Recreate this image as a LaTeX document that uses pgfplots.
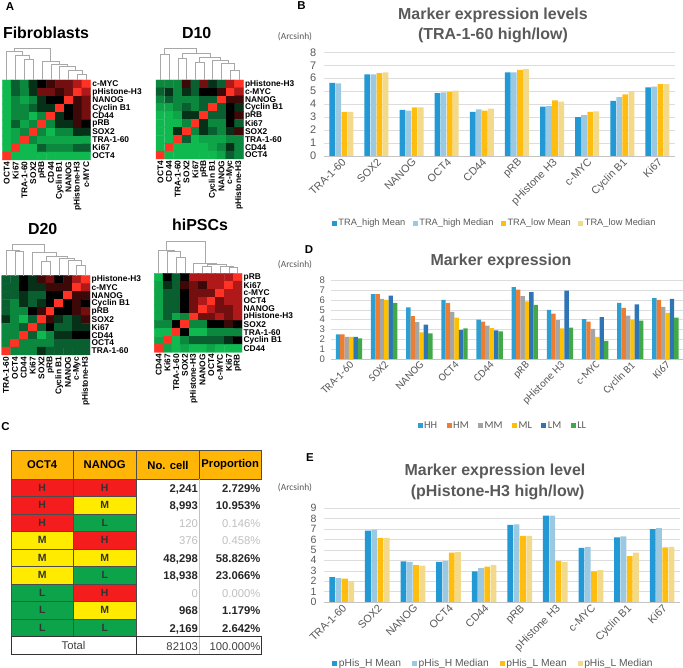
\documentclass[border=0pt]{standalone}
\usepackage{pgfplots}
\usepackage{pgfplotstable}
\usepackage{fontspec}
\pgfplotsset{compat=1.18}
\setmainfont{Liberation Sans}
\newfontfamily\carl{Carlito}
\newcommand{\fs}[1]{\fontsize{#1}{#1}\selectfont}
\definecolor{tg}{HTML}{595959}
\definecolor{lg}{HTML}{DDDDDD}
\definecolor{ax}{HTML}{C4C4C4}
\definecolor{bA}{HTML}{2298D4}
\definecolor{bB}{HTML}{9CC9E2}
\definecolor{bC}{HTML}{FFBE0F}
\definecolor{bD}{HTML}{F3D98A}
\definecolor{dA}{HTML}{2E9FD2}
\definecolor{dB}{HTML}{ED7D31}
\definecolor{dC}{HTML}{A5A5A5}
\definecolor{dD}{HTML}{FFC000}
\definecolor{dE}{HTML}{2E75B6}
\definecolor{dF}{HTML}{43A84A}
\definecolor{tr}{HTML}{F41C1C}
\definecolor{ty}{HTML}{FFEB00}
\definecolor{tn}{HTML}{0CA34A}
\definecolor{th}{HTML}{FFB606}
\definecolor{dgr}{HTML}{A8A8A8}

\pgfplotstableread{
a b c d
5.65 5.6 3.4 3.4
6.3 6.3 6.4 6.45
3.55 3.5 3.75 3.75
4.85 4.9 4.95 5.05
3.4 3.6 3.5 3.65
6.45 6.45 6.65 6.7
3.8 3.85 4.3 4.2
3.0 3.15 3.4 3.45
4.25 4.55 4.75 5.0
5.3 5.35 5.55 5.55
}\tableB
\pgfplotstableread{
a b c d e f
2.5 2.5 2.25 2.25 2.25 2.1
6.6 6.6 6.1 6.0 6.45 5.7
5.25 4.35 3.75 2.7 3.5 2.6
6.0 5.7 4.8 4.2 2.95 3.1
4.0 3.8 3.4 3.15 2.9 2.8
7.3 7.05 6.4 5.85 6.8 5.5
5.0 4.6 3.95 3.1 6.95 3.2
4.05 3.8 3.05 2.25 4.25 1.85
5.7 5.2 4.4 4.0 5.55 3.9
6.2 6.0 5.3 4.7 6.1 4.2
}\tableD
\pgfplotstableread{
a b c d
2.4 2.3 2.25 2.0
6.85 6.95 6.15 6.15
3.9 3.85 3.55 3.5
3.85 3.95 4.75 4.8
2.95 3.25 3.4 3.55
7.4 7.45 6.35 6.35
8.3 8.3 3.95 3.85
5.2 5.3 2.95 3.05
6.2 6.3 4.4 4.75
7.0 7.1 5.25 5.3
}\tableE

\pgfplotsset{
 heat/.style={
  scale only axis, clip=false,
  xmin=-0.5,xmax=9.5,ymin=-0.5,ymax=9.5,y dir=reverse,
  xtick={0,...,9},ytick={0,...,9},
  yticklabel pos=right,
  major tick length=0pt, axis line style={draw=none},
  tick label style={font=\fs{8.4}\bfseries},
  xticklabel style={rotate=90,anchor=east,inner sep=1.5bp},
  yticklabel style={anchor=west,inner sep=1.5bp},
  point meta min=0,point meta max=9,
  colormap={gbr}{rgb255(0cm)=(15,185,80); rgb255(1cm)=(14,165,72); rgb255(2cm)=(12,135,62); rgb255(3cm)=(10,95,48); rgb255(4cm)=(6,48,24); rgb255(5cm)=(0,0,0); rgb255(6cm)=(60,8,8); rgb255(7cm)=(115,15,15); rgb255(8cm)=(175,25,25); rgb255(9cm)=(255,50,35)},
 },
 hm/.style={matrix plot*,mesh/cols=10,mesh/ordering=x varies,point meta=explicit},
 table/hmt/.style={x expr={mod(\coordindex,10)},y expr={floor(\coordindex/10)},header=false,meta index=0,row sep=\\},
 bars/.style={
  scale only axis,
  xmin=-0.5,xmax=9.5,ymin=0,
  axis x line=bottom,axis y line=left,
  x axis line style={-,draw=ax},y axis line style={draw=none},
  xtick={0,...,9},major tick length=0pt,ytick distance=1,
  ymajorgrids,grid style={draw=lg,line width=0.5bp},
  xticklabels={TRA-1-60,SOX2,NANOG,OCT4,CD44,pRB,pHistone H3,c-MYC,Cyclin B1,Ki67},
  xticklabel style={rotate=45,anchor=north east,inner sep=1bp,text=tg},
  yticklabel style={text=tg},
  /pgf/number format/assume math mode=true,
  legend columns=-1,
  legend cell align=left,
 },
 lbar/.style={every axis plot post/.append style={legend image code/.code={\path[####1,draw=none] (0bp,-2.5bp) rectangle (5bp,2.5bp);}}},
}
\newcommand{\br}[5]{\draw[dgr,line width=0.6bp]
 ([yshift=#2bp]axis cs:#1,-0.5) -- ([yshift=#5bp]axis cs:#1,-0.5) -- ([yshift=#5bp]axis cs:#3,-0.5) -- ([yshift=#4bp]axis cs:#3,-0.5);}
\newcommand{\trow}[8]{%
 \pgfmathsetmacro{\yt}{189-17.47*#1}\pgfmathsetmacro{\yb}{\yt-17.47}\pgfmathsetmacro{\ym}{\yt-8.73}
 \fill[#2] (11,\yt) rectangle (73.3,\yb);
 \fill[#4] (73.3,\yt) rectangle (136,\yb);
 \draw[black!70,line width=0.5bp] (11,\yt) rectangle (73.3,\yb);
 \draw[black!70,line width=0.5bp] (73.3,\yt) rectangle (136,\yb);
 \node[font=\fs{10.5}\bfseries,text=black!80] at (42.2,\ym) {#3};
 \node[font=\fs{10.5}\bfseries,text=black!80] at (104.7,\ym) {#5};
 \node[font=\fs{11.3}\bfseries,text=#8,anchor=mid east,inner sep=0pt] at (198,\ym-2) {#6};
 \node[font=\fs{11.3}\bfseries,text=#8,anchor=mid east,inner sep=0pt] at (260.5,\ym-2) {#7};
}

\begin{document}
\begin{tikzpicture}[x=1bp,y=1bp]
\useasboundingbox (0,0) rectangle (683,668);

% Panel letters and heat-map titles
\node[font=\fs{11.5}\bfseries] at (10,661) {A};
\node[font=\fs{11.5}\bfseries] at (301.5,662) {B};
\node[font=\fs{11.5}\bfseries] at (5.5,241) {C};
\node[font=\fs{11.5}\bfseries] at (309,418) {D};
\node[font=\fs{11.5}\bfseries] at (310,210) {E};
\node[font=\fs{16}\bfseries] at (46,635.5) {Fibroblasts};
\node[font=\fs{16}\bfseries] at (196.7,634.5) {D10};
\node[font=\fs{16}\bfseries] at (42.7,439) {D20};
\node[font=\fs{16}\bfseries] at (200,443) {hiPSCs};

% Fibroblasts
\begin{axis}[heat,at={(2.3bp,508bp)},anchor=south west,width=88.4bp,height=80bp,
 xticklabels={OCT4,Ki67,TRA-1-60,SOX2,pRB,CD44,Cyclin B1,NANOG,pHistone-H3,c-MYC},
 yticklabels={c-MYC,pHistone-H3,NANOG,Cyclin B1,CD44,pRB,SOX2,TRA-1-60,Ki67,OCT4}]
\addplot[hm] table[hmt] {
0\\3\\2\\4\\5\\6\\7\\7\\8\\9\\
0\\3\\2\\4\\7\\7\\6\\7\\9\\8\\
0\\2\\1\\2\\4\\5\\5\\9\\6\\7\\
0\\2\\2\\3\\4\\4\\9\\5\\6\\7\\
0\\2\\2\\0\\2\\9\\4\\5\\6\\7\\
0\\3\\1\\2\\9\\2\\4\\4\\6\\5\\
0\\1\\2\\9\\2\\0\\2\\2\\4\\4\\
0\\1\\9\\2\\1\\1\\1\\1\\1\\1\\
0\\9\\0\\0\\3\\2\\2\\2\\3\\3\\
9\\0\\0\\0\\0\\0\\0\\0\\0\\0\\
};
\br{8}{0}{9}{0}{6}
\br{7}{0}{8.5}{6}{9.5}
\br{6}{0}{7.75}{9.5}{14}
\br{5}{0}{6.875}{14}{16}
\br{4}{0}{5.94}{16}{18.5}
\br{2}{0}{3}{0}{20.5}
\br{1}{0}{2.5}{20.5}{25}
\br{0}{0}{1.75}{25}{28.5}
\br{0.875}{28.5}{4.97}{18.5}{32}
\end{axis}

% D10
\begin{axis}[heat,at={(156bp,509bp)},anchor=south west,width=87.3bp,height=79bp,
 xticklabels={OCT4,CD44,TRA-1-60,SOX2,Ki67,pRB,Cyclin B1,NANOG,c-Myc,pHistone-H3},
 yticklabels={pHistone-H3,c-MYC,NANOG,Cyclin B1,pRB,Ki67,SOX2,TRA-1-60,CD44,OCT4}]
\addplot[hm] table[hmt] {
2\\2\\2\\6\\3\\7\\4\\3\\8\\9\\
3\\4\\2\\4\\3\\5\\5\\6\\9\\8\\
2\\3\\2\\2\\2\\3\\3\\9\\6\\6\\
1\\1\\2\\3\\2\\3\\9\\3\\5\\4\\
0\\0\\1\\4\\4\\9\\3\\3\\5\\6\\
0\\0\\0\\2\\9\\4\\2\\2\\5\\3\\
0\\0\\4\\9\\2\\4\\3\\2\\4\\6\\
0\\0\\9\\3\\0\\1\\1\\1\\2\\2\\
0\\9\\0\\0\\0\\0\\1\\2\\4\\2\\
9\\0\\0\\0\\0\\0\\0\\1\\3\\2\\
};
\br{8}{0}{9}{0}{10}
\br{7}{0}{8.5}{10}{16.7}
\br{6}{0}{7.75}{16.7}{20}
\br{4}{0}{5}{0}{18}
\br{4.5}{18}{6.875}{20}{23}
\br{2}{0}{3}{0}{22}
\br{2.5}{22}{5.69}{23}{27}
\br{0}{0}{1}{0}{25.7}
\br{0.5}{25.7}{4.1}{27}{32}
\end{axis}

% D20
\begin{axis}[heat,at={(1.7bp,313bp)},anchor=south west,width=88.3bp,height=79.3bp,
 xticklabels={TRA-1-60,OCT4,CD44,Ki67,SOX2,pRB,Cyclin B1,NANOG,c-Myc,pHistone-H3},
 yticklabels={pHistone-H3,c-MYC,NANOG,Cyclin B1,pRB,SOX2,Ki67,CD44,OCT4,TRA-1-60}]
\addplot[hm] table[hmt] {
3\\3\\5\\4\\6\\7\\5\\6\\8\\9\\
3\\3\\5\\4\\4\\6\\6\\6\\9\\8\\
3\\3\\4\\3\\3\\5\\5\\9\\6\\6\\
3\\2\\4\\3\\4\\5\\9\\5\\6\\5\\
3\\2\\2\\5\\6\\9\\5\\5\\6\\7\\
4\\2\\0\\3\\9\\6\\4\\3\\4\\6\\
2\\2\\3\\9\\3\\5\\3\\3\\4\\4\\
2\\2\\9\\3\\0\\2\\4\\4\\5\\5\\
2\\9\\2\\2\\2\\2\\3\\3\\3\\3\\
9\\2\\2\\2\\4\\3\\3\\3\\3\\3\\
};
\br{8}{0}{9}{0}{10.7}
\br{7}{0}{8.5}{10.7}{15.7}
\br{6}{0}{7.75}{15.7}{17.3}
\br{4}{0}{5}{0}{14.7}
\br{4.5}{14.7}{6.875}{17.3}{19}
\br{3}{0}{5.69}{19}{23.3}
\br{1}{0}{2}{0}{24}
\br{0}{0}{1.5}{24}{25.7}
\br{0.75}{25.7}{4.34}{23.3}{31}
\end{axis}

% hiPSCs
\begin{axis}[heat,at={(154.3bp,315.7bp)},anchor=south west,width=87.7bp,height=79bp,
 xticklabels={CD44,Ki67,TRA-1-60,SOX2,pHistone-H3,NANOG,OCT4,c-MYC,Ki67,pRB},
 yticklabels={pRB,Ki67,c-MYC,OCT4,NANOG,pHistone-H3,SOX2,TRA-1-60,Cyclin B1,CD44}]
\addplot[hm] table[hmt] {
0\\5\\3\\5\\8\\8\\8\\8\\8\\9\\
1\\4\\3\\6\\7\\6\\8\\8\\9\\8\\
1\\3\\3\\5\\7\\7\\7\\9\\8\\8\\
1\\3\\3\\5\\7\\8\\9\\7\\8\\8\\
1\\3\\3\\5\\7\\9\\8\\7\\7\\8\\
1\\3\\1\\2\\9\\7\\7\\8\\7\\8\\
2\\2\\5\\9\\2\\2\\5\\5\\6\\5\\
0\\0\\9\\5\\0\\0\\2\\2\\2\\2\\
1\\9\\0\\2\\3\\3\\3\\3\\4\\5\\
9\\1\\0\\1\\0\\0\\1\\0\\0\\0\\
};
\br{5}{0}{6}{0}{6.7}
\br{8}{0}{9}{0}{5.7}
\br{7}{0}{8.5}{5.7}{6.7}
\br{5.5}{6.7}{7.75}{6.7}{9}
\br{4}{0}{6.6}{9}{10}
\br{2}{0}{3}{0}{15.7}
\br{1}{0}{2.5}{15.7}{22.3}
\br{0}{0}{1.75}{22.3}{23.3}
\br{0.875}{23.3}{5.3}{10}{31.7}
\end{axis}

% Panel B
\node[font=\carl\fs{9.5},text=tg] at (295,631) {(Arcsinh)};
\node[font=\fs{16}\bfseries,text=tg] at (493,653) {Marker expression levels};
\node[font=\fs{16}\bfseries,text=tg] at (493,633) {(TRA-1-60 high/low)};
\begin{axis}[bars,at={(323.8bp,512bp)},anchor=south west,width=351.1bp,height=103.7bp,ymax=8,
 ybar=0.4bp,bar width=5.7bp,lbar,
 tick label style={font=\fs{10.8}},
 yticklabel style={font=\fs{11},xshift=-4bp},
 legend style={at={(0.486,-0.65)},anchor=center,draw=none,fill=none,font=\fs{9.3},text=tg,
  /tikz/every even column/.append style={column sep=6bp},inner sep=0pt,nodes={inner sep=1.5bp}}]
\addplot[fill=bA,draw=none] table[x expr=\coordindex,y=a] {\tableB};
\addplot[fill=bB,draw=none] table[x expr=\coordindex,y=b] {\tableB};
\addplot[fill=bC,draw=none] table[x expr=\coordindex,y=c] {\tableB};
\addplot[fill=bD,draw=none] table[x expr=\coordindex,y=d] {\tableB};
\legend{TRA\_high Mean,TRA\_high Median,TRA\_low Mean,TRA\_low Median}
\end{axis}

% Panel D
\node[font=\carl\fs{9.5},text=tg] at (295,403) {(Arcsinh)};
\node[font=\fs{16}\bfseries,text=tg] at (501,407) {Marker expression};
\begin{axis}[bars,at={(331.4bp,309bp)},anchor=south west,width=351.6bp,height=78.7bp,ymax=8,
 ybar=0bp,bar width=4.4bp,lbar,
 tick label style={font=\carl\fs{11}},
 yticklabel style={font=\fs{9.6},xshift=-3bp},
 legend style={at={(0.487,-0.845)},anchor=center,draw=none,fill=none,font=\carl\fs{10.5},text=tg,
  /tikz/every even column/.append style={column sep=8bp},inner sep=0pt,nodes={inner sep=1.5bp}}]
\addplot[fill=dA,draw=none] table[x expr=\coordindex,y=a] {\tableD};
\addplot[fill=dB,draw=none] table[x expr=\coordindex,y=b] {\tableD};
\addplot[fill=dC,draw=none] table[x expr=\coordindex,y=c] {\tableD};
\addplot[fill=dD,draw=none] table[x expr=\coordindex,y=d] {\tableD};
\addplot[fill=dE,draw=none] table[x expr=\coordindex,y=e] {\tableD};
\addplot[fill=dF,draw=none] table[x expr=\coordindex,y=f] {\tableD};
\legend{HH,HM,MM,ML,LM,LL}
\end{axis}

% Panel E
\node[font=\carl\fs{9.5},text=tg] at (295,180) {(Arcsinh)};
\node[font=\fs{16}\bfseries,text=tg] at (495,196.3) {Marker expression level};
\node[font=\fs{16}\bfseries,text=tg] at (497.7,176) {(pHistone-H3 high/low)};
\begin{axis}[bars,at={(323.9bp,66bp)},anchor=south west,width=356bp,height=93.7bp,ymax=9,
 ybar=0.5bp,bar width=5.8bp,lbar,
 tick label style={font=\fs{10.8}},
 yticklabel style={font=\fs{10.6},xshift=-4bp},
 legend style={at={(0.476,-0.66)},anchor=center,draw=none,fill=none,font=\fs{10.3},text=tg,
  /tikz/every even column/.append style={column sep=9.5bp},inner sep=0pt,nodes={inner sep=1.5bp}}]
\addplot[fill=bA,draw=none] table[x expr=\coordindex,y=a] {\tableE};
\addplot[fill=bB,draw=none] table[x expr=\coordindex,y=b] {\tableE};
\addplot[fill=bC,draw=none] table[x expr=\coordindex,y=c] {\tableE};
\addplot[fill=bD,draw=none] table[x expr=\coordindex,y=d] {\tableE};
\legend{pHis\_H Mean,pHis\_H Median,pHis\_L Mean,pHis\_L Median}
\end{axis}

% Table C
\fill[th] (11,217.3) rectangle (261,189);
\draw[black!70,line width=0.5bp] (11,217.3) rectangle (261,189);
\foreach \x in {73.3,136,199.3} \draw[black!70,line width=0.5bp] (\x,217.3) -- (\x,189);
\node[font=\fs{11.3}\bfseries] at (42.2,203) {OCT4};
\node[font=\fs{11.3}\bfseries] at (104.7,203) {NANOG};
\node[font=\fs{11.3}\bfseries] at (168,203) {No. cell};
\node[font=\fs{11.3}\bfseries] at (230.2,203) {Proportion};
\draw[lg!70!gray,line width=1bp] (199.3,189) -- (199.3,13.7);
\trow{0}{tr}{H}{tr}{H}{2,241}{2.729\%}{black!85}
\trow{1}{tr}{H}{ty}{M}{8,993}{10.953\%}{black!85}
\trow{2}{tr}{H}{tn}{L}{\mdseries 120}{\mdseries 0.146\%}{black!25}
\trow{3}{ty}{M}{tr}{H}{\mdseries 376}{\mdseries 0.458\%}{black!25}
\trow{4}{ty}{M}{ty}{M}{48,298}{58.826\%}{black!85}
\trow{5}{ty}{M}{tn}{L}{18,938}{23.066\%}{black!85}
\trow{6}{tn}{L}{tr}{H}{\mdseries 0}{\mdseries 0.000\%}{black!25}
\trow{7}{tn}{L}{ty}{M}{968}{1.179\%}{black!85}
\trow{8}{tn}{L}{tn}{L}{2,169}{2.642\%}{black!85}
\draw[black!80,line width=0.6bp] (11,31.7) rectangle (261,13.7);
\draw[black!80,line width=0.6bp] (136,31.7) -- (136,13.7);
\node[font=\fs{11.3},text=black!75] at (73.5,22.5) {Total};
\node[font=\fs{11.3},text=black!75,anchor=mid east,inner sep=0pt] at (198,20) {82103};
\node[font=\fs{11.3},text=black!75,anchor=mid east,inner sep=0pt] at (260.5,20) {100.000\%};
\end{tikzpicture}
\end{document}
